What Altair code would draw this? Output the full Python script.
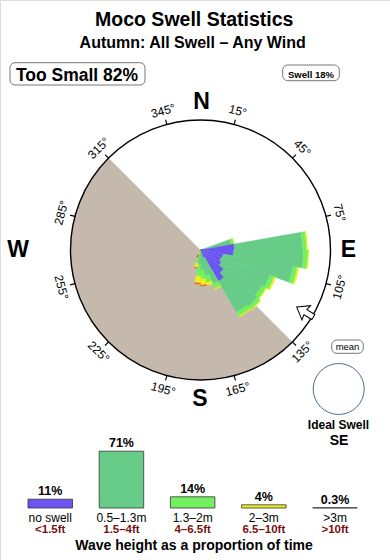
import math
import altair as alt
import pandas as pd

# ---------------- data ----------------
# swell rose: 10-degree direction bins (start bearing), radial length per height band (% of time)
DIRS = [70, 80, 90, 100, 110, 120, 130, 140, 150, 160, 170, 180, 190, 200]
BIN = 10
NO_SWELL = [0.23, 2.62, 2.54, 1.77, 1.69, 1.85, 2.31, 2.77, 0.62, 0.15, 0.0, 0.0, 0.0, 0.0]
H05_13 = [2.15, 5.23, 5.38, 5.46, 4.00, 3.62, 3.38, 2.77, 2.15, 1.85, 1.54, 1.08, 0.38, 0.0]
H13_2 = [0.23, 0.31, 0.35, 0.35, 0.35, 0.35, 0.31, 0.35, 0.38, 0.54, 0.69, 0.92, 0.69, 0.23]
H2_3 = [0.04, 0.08, 0.08, 0.12, 0.12, 0.08, 0.08, 0.08, 0.08, 0.23, 0.46, 0.54, 0.31, 0.15]
H3P = [0.0, 0.0, 0.0, 0.0, 0.0, 0.0, 0.0, 0.0, 0.0, 0.0, 0.08, 0.08, 0.04, 0.23]

# bottom bar chart
CATS = ["no swell", "0.5–1.3m", "1.3–2m", "2–3m", ">3m"]
FEET = ["<1.5ft", "1.5–4ft", "4–6.5ft", "6.5–10ft", ">10ft"]
PCT = [11, 71, 14, 4, 0.3]
PCT_LABELS = ["11%", "71%", "14%", "4%", "0.3%"]

DEG_LABELS = [15, 45, 75, 105, 135, 165, 195, 225, 255, 285, 315, 345]
LAND_FROM, LAND_TO = 135, 315

# ---------------- style / layout ----------------
FONT = "Liberation Sans"
CX, CY, R = 200.5, 250, 130
COLORS = ["#6a55f2", "#66cc88", "#72f060", "#eeee22", "#e8622a"]
LAND = "#c5b9ad"

rows = []
series = [NO_SWELL, H05_13, H13_2, H2_3, H3P]
for i, d in enumerate(DIRS):
    cum = 0.0
    for band, vals in zip(CATS, series):
        v = vals[i]
        if v > 0:
            rows.append(dict(a0=d, a1=d + BIN, band=band, r0=cum, r1=cum + v))
        cum += v
rose_df = pd.DataFrame(rows)
deg_df = pd.DataFrame({"deg": DEG_LABELS})
bar_df = pd.DataFrame({"cat": CATS, "pct": PCT, "pct_label": PCT_LABELS, "feet": FEET})
one = pd.DataFrame({"_": [0]})

theta_scale = alt.Scale(domain=[0, 360], range=[0, 2 * math.pi])
rad_scale = alt.Scale(type="linear", domain=[0, 10], range=[0, R], zero=True)
cx, cy = alt.value(CX), alt.value(CY)

land = alt.Chart(one).mark_arc(
    theta=LAND_FROM * math.pi / 180, theta2=LAND_TO * math.pi / 180, radius=R, color=LAND
).encode(x=cx, y=cy)

rose = alt.Chart(rose_df).mark_arc(strokeWidth=0.4).encode(
    x=cx, y=cy,
    theta=alt.Theta("a0:Q", scale=theta_scale, stack=None),
    theta2="a1:Q",
    radius=alt.Radius("r1:Q", scale=rad_scale, stack=None),
    radius2="r0:Q",
    color=alt.Color("band:N", scale=alt.Scale(domain=CATS, range=COLORS), legend=None),
    stroke=alt.Stroke("band:N", scale=alt.Scale(domain=CATS, range=COLORS), legend=None),
)

ring = alt.Chart(one).mark_arc(
    theta=0, theta2=2 * math.pi, radius=R, fillOpacity=0, stroke="black", strokeWidth=1.4
).encode(x=cx, y=cy)

ticks = alt.Chart(deg_df).transform_calculate(
    t0="datum.deg - 0.25", t1="datum.deg + 0.25"
).mark_arc(radius=R + 5, radius2=R, color="black").encode(
    x=cx, y=cy,
    theta=alt.Theta("t0:Q", scale=theta_scale, stack=None),
    theta2="t1:Q",
)

deg_labels = alt.Chart(deg_df).transform_calculate(
    txt="datum.deg + '°'",
    rot="(datum.deg % 180) < 90 ? (datum.deg % 180) : (datum.deg % 180) + 180",
).mark_text(radius=R + 14, font=FONT, fontSize=12, align="center", baseline="middle").encode(
    x=cx, y=cy,
    theta=alt.Theta("deg:Q", scale=theta_scale, stack=None),
    text="txt:N",
    angle=alt.Angle("rot:Q", scale=None),
)


def label(text, x, y, size, weight="normal", color="black", align="center"):
    return alt.Chart(one).mark_text(
        font=FONT, fontSize=size, fontWeight=weight, color=color, align=align, baseline="alphabetic"
    ).encode(x=alt.value(x), y=alt.value(y), text=alt.value(text))


def box(x0, x1, y0, y1):
    return alt.Chart(one).mark_rect(
        cornerRadius=5, fill="white", stroke="#777777", strokeWidth=1
    ).encode(x=alt.value(x0), x2=alt.value(x1), y=alt.value(y0), y2=alt.value(y1))


arrow = alt.Chart(one).mark_point(
    shape="M 0 -1 L 0.85 0.15 L 0.3 0.05 L 0.3 1 L -0.3 1 L -0.3 0.05 L -0.85 0.15 Z",
    size=380, filled=True, fill="white", stroke="black", strokeWidth=1, angle=301, opacity=1,
).encode(x=alt.value(305), y=alt.value(312))

ideal = alt.Chart(one).mark_arc(
    theta=0, theta2=2 * math.pi, radius=25.5, fill="white", stroke="#4d6d93", strokeWidth=1
).encode(x=alt.value(338.7), y=alt.value(389))

# bar chart
xb = alt.X("cat:N", sort=CATS, axis=None,
           scale=alt.Scale(domain=CATS, range=[28, 357.3], paddingInner=0.375, paddingOuter=0))
yb = alt.Y("pct:Q", axis=None, scale=alt.Scale(domain=[0, 100], range=[508, 428]))

bars = alt.Chart(bar_df).mark_bar(stroke="#333333", strokeWidth=0.8).encode(
    x=xb, y=yb,
    color=alt.Color("cat:N", scale=alt.Scale(domain=CATS, range=COLORS), legend=None),
)
bar_pct = alt.Chart(bar_df).mark_text(
    font=FONT, fontSize=12.5, fontWeight="bold", dy=-4, baseline="alphabetic"
).encode(x=xb, y=yb, text="pct_label:N")
bar_cat = alt.Chart(bar_df).mark_text(
    font=FONT, fontSize=12, baseline="alphabetic", color="black"
).encode(x=xb, y=alt.value(521.5), text="cat:N")
bar_ft = alt.Chart(bar_df).mark_text(
    font=FONT, fontSize=11.5, fontWeight="bold", baseline="alphabetic", color="#7a1010"
).encode(x=xb, y=alt.value(533.3), text="feet:N")

layers = [
    land, rose, ring, ticks, deg_labels,
    label("N", 201.5, 109.3, 23, "bold"),
    label("E", 348.5, 257.3, 23, "bold"),
    label("S", 200, 406.3, 23, "bold"),
    label("W", 18, 257.3, 23, "bold"),
    arrow,
    label("Moco Swell Statistics", 194.2, 26, 19.5, "bold"),
    label("Autumn: All Swell – Any Wind", 192.7, 47.7, 16, "bold"),
    box(10, 145, 62.7, 85), label("Too Small 82%", 77, 80.7, 17.5, "bold"),
    box(282.7, 339.3, 65, 80.7), label("Swell 18%", 311, 77.8, 9.5, "bold"),
    box(331.7, 363.3, 340, 353.3), label("mean", 347.5, 350, 9.5),
    ideal,
    label("Ideal Swell", 338.5, 429, 12, "bold"),
    label("SE", 339, 444.5, 14, "bold"),
    bars, bar_pct, bar_cat, bar_ft,
    label("Wave height as a proportion of time", 194, 549.5, 14, "bold"),
]

chart = alt.layer(*layers).resolve_scale(color="independent").properties(
    width=390, height=560, autosize=alt.AutoSizeParams(type="none"), padding=0
).configure_view(strokeWidth=0).configure(background="white")

chart.save("out.html", embed_options={"renderer": "svg", "actions": False})
